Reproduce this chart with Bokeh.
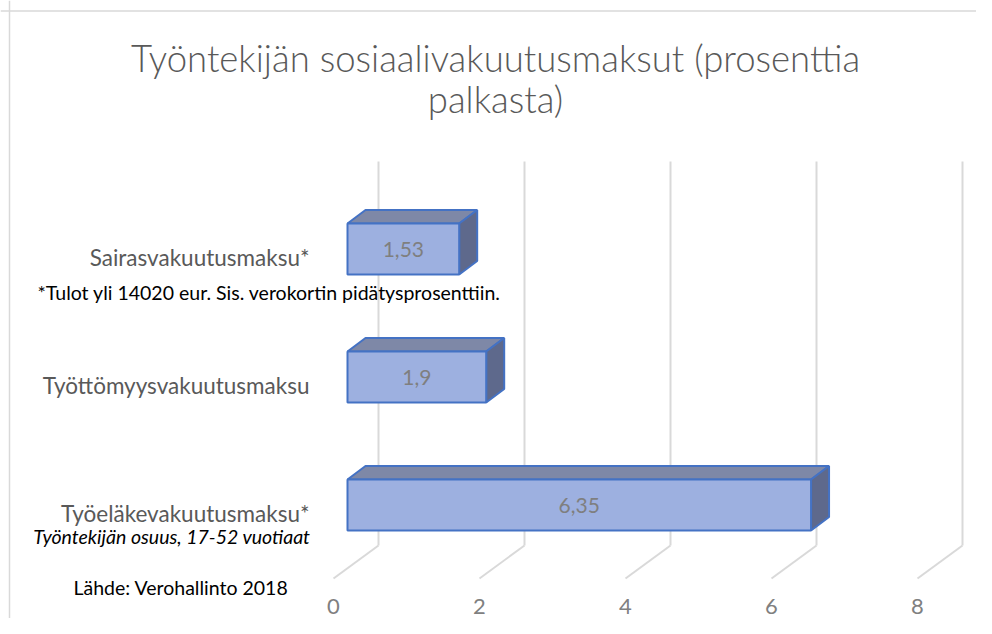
from bokeh.plotting import figure
from bokeh.models import ColumnDataSource, Span, Range1d
from bokeh.core.properties import value
from bokeh.embed import file_html
from bokeh.resources import INLINE

# ---------------- data ----------------
categories = ["Työeläkevakuutusmaksu*", "Työttömyysvakuutusmaksu", "Sairasvakuutusmaksu*"]
values = [6.35, 1.9, 1.53]
x_ticks = [0, 2, 4, 6, 8]
tick_labels = ["0", "2", "4", "6", "8"]
title_lines = ["Työntekijän sosiaalivakuutusmaksut (prosenttia", "palkasta)"]
note_sairas = "*Tulot yli 14020 eur. Sis. verokortin pidätysprosenttiin."
note_tyoelake = "Työntekijän osuus, 17-52 vuotiaat"
source_note = "Lähde: Verohallinto 2018"

# ---------------- layout (pixel geometry of the page) ----------------
W, H = 976, 618
PAGE0 = 0
FRAME_L, FRAME_R = PAGE0, PAGE0 + W
FRAME_T, FRAME_B = PAGE0, PAGE0 + H
PX_X = 73.0          # pixels per value unit
PX_Y = 128.0         # pixels per category step
ORIGIN_X = 333.0     # page x of value 0 on the front floor edge
ORIGIN_Y = 504.5     # page y of the first category's bar centre


def fx(px):
    return (px - ORIGIN_X) / PX_X


def fy(py):
    return (ORIGIN_Y - py) / PX_Y


BACK_DX = 45 / PX_X            # depth shift of the back wall
BAR_DX = 14 / PX_X             # bar front face offset from front floor edge
BAR_DEPTH_X = 18 / PX_X
BAR_DEPTH_Y = 13.5 / PX_Y
BAR_HALF = 25.5 / PX_Y
FLOOR_BACK_Y = fy(545)
FLOOR_FRONT_Y = fy(578)
WALL_TOP_Y = fy(161)
TICK_LABEL_Y = fy(606)

FONT = "Lato"
TITLE_FONT = "Lato Light"

p = figure(width=W, height=H, output_backend="svg", toolbar_location=None,
           x_range=Range1d(fx(FRAME_L), fx(FRAME_R)),
           y_range=Range1d(fy(FRAME_B), fy(FRAME_T)),
           x_axis_location=None, y_axis_location=None,
           min_border_left=0, min_border_right=0, min_border_top=0,
           min_border_bottom=0)
p.outline_line_color = None
p.grid.visible = False
p.background_fill_color = "white"
p.border_fill_color = "white"

# chart border (top / left visible)
p.add_layout(Span(location=fx(9), dimension="height", line_color="#d9d9d9", line_width=1.5))
p.add_layout(Span(location=fy(10.5), dimension="width", line_color="#d9d9d9", line_width=1.5))

# 3D gridlines: back wall verticals + floor diagonals
grid = ColumnDataSource(dict(
    xb=[t + BACK_DX for t in x_ticks],
    xf=list(x_ticks),
    yb=[FLOOR_BACK_Y] * len(x_ticks),
    yt=[WALL_TOP_Y] * len(x_ticks),
    yf=[FLOOR_FRONT_Y] * len(x_ticks),
    ylab=[TICK_LABEL_Y] * len(x_ticks),
    lab=tick_labels,
))
p.segment(x0="xb", y0="yb", x1="xb", y1="yt", source=grid, line_color="#d9d9d9", line_width=2)
p.segment(x0="xb", y0="yb", x1="xf", y1="yf", source=grid, line_color="#d9d9d9", line_width=2)
# value-axis tick labels on the front floor edge
p.text(x="xf", y="ylab", text="lab", source=grid, text_align="center",
       text_baseline="middle", text_color="#808080", text_font=value(FONT),
       text_font_size="22px")

# bars
pos = list(range(len(categories)))
left = [BAR_DX] * len(values)
right = [BAR_DX + v for v in values]
bars = ColumnDataSource(dict(
    left=left, right=right,
    bottom=[c - BAR_HALF for c in pos], top=[c + BAR_HALF for c in pos],
    xc=[BAR_DX + v / 2 for v in values], yc=pos,
    label=[("%g" % v).replace(".", ",") for v in values],
))
top_xs, top_ys, side_xs, side_ys = [], [], [], []
for l, r, c in zip(left, right, pos):
    t, b = c + BAR_HALF, c - BAR_HALF
    top_xs.append([l, r, r + BAR_DEPTH_X, l + BAR_DEPTH_X])
    top_ys.append([t, t, t + BAR_DEPTH_Y, t + BAR_DEPTH_Y])
    side_xs.append([r, r + BAR_DEPTH_X, r + BAR_DEPTH_X, r])
    side_ys.append([b, b + BAR_DEPTH_Y, t + BAR_DEPTH_Y, t])

EDGE = "#4472c4"
p.patches(xs=top_xs, ys=top_ys, fill_color="#7e88a7", line_color=EDGE, line_width=2)
p.patches(xs=side_xs, ys=side_ys, fill_color="#5e698c", line_color=EDGE, line_width=2)
p.quad(left="left", right="right", bottom="bottom", top="top", source=bars,
       fill_color="#9db0e0", line_color=EDGE, line_width=2)
p.text(x="xc", y="yc", text="label", source=bars, text_align="center",
       text_baseline="middle", text_color="#7f7f7f", text_font=value(FONT),
       text_font_size="21px")

# category labels
cats = ColumnDataSource(dict(x=[fx(309)] * len(categories),
                             y=[c - 8 / PX_Y for c in pos], text=categories))
p.text(x="x", y="y", text="text", source=cats, text_align="right",
       text_baseline="middle", text_color="#595959", text_font=value(FONT),
       text_font_size="22.5px")

# title
p.text(x=[fx(495)] * 2, y=[fy(57), fy(98)], text=title_lines, text_align="center",
       text_baseline="middle", text_color="#595959", text_font=value(TITLE_FONT),
       text_font_size="36.5px")

# notes
p.text(x=[fx(37)], y=[fy(292)], text=[note_sairas], text_align="left",
       text_baseline="middle", text_color="black", text_font=value(FONT),
       text_font_size="19.5px")
p.text(x=[fx(310)], y=[fy(536)], text=[note_tyoelake], text_align="right",
       text_baseline="middle", text_color="black", text_font=value(FONT),
       text_font_size="19.5px", text_font_style="italic")
p.text(x=[fx(73)], y=[fy(587)], text=[source_note], text_align="left",
       text_baseline="middle", text_color="black", text_font=value(FONT),
       text_font_size="19.5px")

open("out.html", "w").write(file_html(p, INLINE))
